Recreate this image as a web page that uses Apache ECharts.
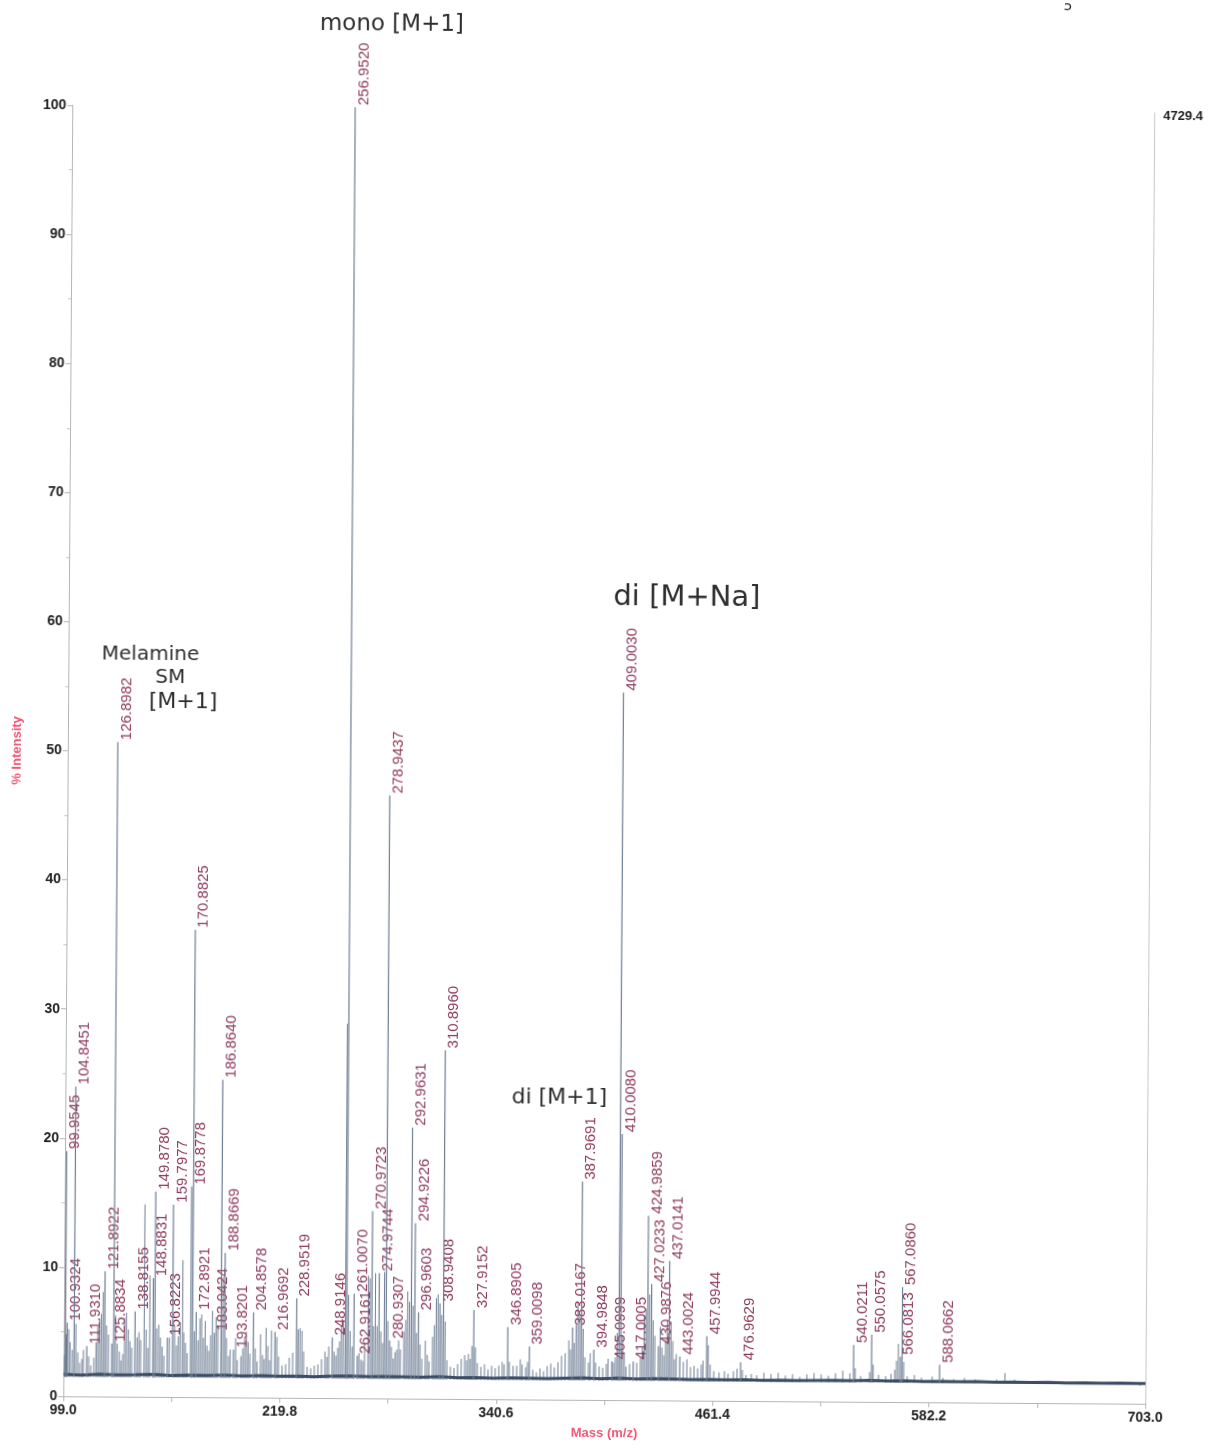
<!DOCTYPE html>
<html>
<head>
<meta charset="utf-8">
<title>Mass spectrum</title>
<script src="https://cdn.jsdelivr.net/npm/echarts@6/dist/echarts.min.js"></script>
<style>
  html, body { margin: 0; padding: 0; background: #ffffff; overflow: hidden; }
  #chart { width: 1212px; height: 1445px; transform: rotate(0.4deg); transform-origin: 50% 50%; }
</style>
</head>
<body>
<div id="chart"></div>
<script>
// Annotated peaks: m/z and % intensity
const labelMz = [99.9545, 100.9324, 104.8451, 111.9310, 121.8922, 125.8834, 126.8982, 138.8155, 148.8831, 149.8780,
  156.8223, 159.7977, 169.8778, 170.8825, 172.8921, 183.0424, 186.8640, 188.8669, 193.8201, 204.8578,
  216.9692, 228.9519, 248.9146, 256.9520, 261.0070, 262.9161, 270.9723, 274.9744, 278.9437, 280.9307,
  292.9631, 294.9226, 296.9603, 308.9408, 310.8960, 327.9152, 346.8905, 359.0098, 383.0167, 387.9691,
  394.9848, 405.0999, 409.0030, 410.0080, 417.0005, 424.9859, 427.0233, 430.9876, 437.0141, 443.0024,
  457.9944, 476.9629, 540.0211, 550.0575, 566.0813, 567.0860, 588.0662];
const labelInt = [19.0, 5.7, 24.0, 3.9, 9.7, 4.1, 50.7, 6.6, 9.2, 15.9,
  4.6, 14.9, 16.3, 36.2, 6.6, 5.0, 24.6, 11.2, 3.7, 6.6,
  5.1, 7.7, 4.7, 100, 8.1, 3.3, 14.5, 9.7, 46.7, 4.5,
  21.0, 13.6, 6.7, 7.4, 27.0, 6.9, 5.6, 4.1, 5.6, 16.9,
  3.9, 3.0, 54.8, 20.6, 3.0, 14.3, 9.0, 4.2, 10.8, 3.4,
  5.0, 3.0, 4.4, 5.2, 3.5, 8.9, 2.9];

// Unannotated peaks and chemical noise
const minorMz = [99.5, 100.4, 101.8, 102.6, 103.8, 105.8, 106.9, 108.0, 109.2, 110.1, 113.0, 114.2, 115.9, 117.1, 118.0,
  119.0, 120.0, 120.9, 122.9, 124.0, 127.9, 128.9, 130.1, 131.0, 132.0, 133.0, 134.0, 135.1, 136.0, 137.0,
  140.0, 141.0, 142.0, 143.9, 145.0, 146.0, 147.0, 150.9, 152.0, 153.0, 154.0, 155.0, 158.0, 160.9, 162.0,
  163.0, 164.0, 165.3, 166.0, 167.0, 168.0, 171.9, 174.0, 175.0, 176.0, 177.0, 178.0, 179.0, 180.0, 181.0,
  182.0, 184.0, 185.0, 187.8, 189.9, 191.0, 192.0, 195.0, 196.0, 198.0, 199.0, 200.0, 201.0, 202.0, 203.0,
  206.0, 207.0, 208.9, 210.0, 211.0, 212.0, 213.0, 214.0, 215.0, 218.0, 219.0, 221.0, 223.0, 225.0, 226.9,
  229.9, 230.9, 232.0, 233.0, 235.0, 237.0, 239.0, 241.0, 243.0, 244.9, 246.0, 247.0, 250.0, 251.0, 252.0,
  253.0, 254.0, 255.0, 256.2, 257.9, 258.9, 260.0, 263.9, 265.0, 266.0, 267.0, 268.9, 269.9, 271.9, 272.9,
  273.9, 276.0, 277.0, 277.9, 279.9, 282.0, 283.0, 284.0, 285.0, 286.0, 287.0, 288.9, 289.9, 290.9, 291.9,
  293.9, 295.9, 297.9, 299.0, 300.9, 302.0, 303.0, 304.9, 305.9, 306.9, 307.9, 309.9, 311.9, 313.0, 315.0,
  317.0, 319.0, 321.0, 322.9, 324.0, 325.0, 326.0, 326.9, 328.9, 330.0, 332.0, 334.0, 336.0, 338.0, 340.0,
  342.0, 343.9, 345.0, 347.9, 350.0, 352.0, 354.0, 355.0, 357.0, 358.0, 361.0, 363.0, 365.0, 367.0, 369.0,
  371.0, 373.0, 375.0, 377.0, 379.0, 381.0, 382.0, 384.0, 385.0, 386.0, 387.0, 389.0, 390.0, 392.0, 393.0,
  396.0, 398.0, 400.0, 402.0, 403.0, 406.0, 407.0, 408.0, 411.0, 412.0, 413.0, 415.0, 419.0, 421.0, 422.0,
  423.0, 424.0, 426.0, 428.0, 429.0, 432.0, 433.0, 434.0, 435.0, 436.0, 438.0, 439.0, 440.0, 441.0, 445.0,
  447.0, 449.0, 451.0, 453.0, 455.0, 456.0, 458.9, 460.0, 462.0, 465.0, 468.0, 470.0, 473.0, 475.0, 478.0,
  480.0, 483.0, 486.0, 490.0, 494.0, 498.0, 502.0, 506.0, 510.0, 514.0, 518.0, 522.0, 526.0, 530.0, 534.0,
  538.0, 541.0, 544.0, 549.0, 551.0, 554.0, 558.0, 561.0, 563.0, 564.0, 565.0, 568.0, 570.0, 574.0, 578.0,
  584.0, 590.0, 596.0, 602.0, 608.0, 614.0, 620.0, 624.6, 630.0, 636.0, 642.0, 648.0, 654.0, 660.0, 666.0,
  672.0, 678.0, 684.0, 690.0, 696.0, 700.0];
const minorInt = [3.2, 4.8, 5.2, 4.2, 3.6, 5.6, 3.4, 2.6, 2.9, 3.6, 3.1, 2.4, 3.0, 4.2, 5.4,
  6.0, 6.4, 8.1, 5.5, 4.8, 6.3, 4.1, 3.5, 2.8, 3.3, 6.1, 6.5, 5.2, 4.3, 3.8,
  4.6, 5.0, 4.4, 14.9, 5.2, 3.8, 9.4, 5.3, 5.6, 4.6, 3.9, 3.2, 4.6, 5.5, 4.0,
  4.7, 5.8, 10.6, 5.0, 4.2, 3.4, 5.1, 4.4, 6.1, 6.4, 4.6, 5.9, 4.0, 3.6, 4.8,
  6.7, 6.2, 5.6, 9.3, 4.6, 3.2, 3.7, 4.6, 2.9, 3.2, 3.8, 4.6, 5.1, 4.3, 3.4,
  3.8, 2.8, 4.9, 3.3, 3.0, 5.4, 4.0, 2.9, 5.2, 4.7, 3.2, 2.5, 2.6, 3.1, 3.5,
  5.3, 5.4, 5.2, 3.6, 2.4, 2.3, 2.5, 2.6, 3.0, 3.6, 3.2, 4.0, 3.6, 3.3, 3.9,
  4.4, 5.6, 6.0, 29.0, 8.0, 5.2, 4.0, 3.5, 3.0, 2.9, 4.2, 9.5, 9.3, 5.6, 9.7,
  5.6, 5.2, 4.3, 9.8, 6.0, 4.0, 3.1, 3.6, 3.8, 4.5, 3.8, 5.2, 6.1, 8.3, 7.5,
  7.2, 5.1, 4.2, 3.1, 4.5, 3.4, 2.9, 4.8, 5.7, 7.8, 8.1, 6.5, 6.0, 3.0, 2.5,
  2.4, 2.7, 3.1, 3.4, 3.0, 3.5, 3.1, 4.1, 4.0, 2.8, 2.5, 2.7, 2.3, 2.6, 2.4,
  2.6, 2.9, 2.7, 2.9, 2.6, 2.6, 3.1, 2.7, 2.5, 2.9, 2.3, 2.1, 2.4, 2.2, 2.6,
  2.8, 2.5, 2.9, 3.4, 3.6, 4.6, 3.9, 4.4, 5.8, 7.6, 6.6, 5.5, 3.3, 2.9, 3.6,
  2.9, 2.6, 2.5, 2.8, 3.2, 2.9, 3.3, 5.2, 5.0, 3.7, 2.6, 2.8, 2.9, 3.3, 4.1,
  6.6, 7.1, 8.2, 6.2, 5.0, 5.7, 4.1, 3.5, 4.7, 6.2, 6.1, 4.6, 3.2, 3.6, 3.0,
  3.2, 2.6, 2.7, 2.5, 2.8, 3.1, 4.3, 2.8, 2.3, 2.2, 2.3, 2.1, 2.3, 2.5, 2.4,
  2.0, 2.1, 2.0, 2.2, 2.1, 2.2, 2.0, 2.1, 1.9, 2.1, 2.2, 2.1, 2.0, 2.2, 2.4,
  2.2, 2.6, 2.0, 2.3, 2.9, 2.1, 2.0, 2.2, 2.5, 3.2, 4.5, 3.1, 2.0, 2.1, 1.9,
  2.0, 1.9, 1.8, 1.9, 1.8, 1.7, 1.8, 2.3, 1.8, 1.7, 1.7, 1.6, 1.7, 1.6, 1.6,
  1.5, 1.6, 1.5, 1.5, 1.5, 1.4];

// Baseline trace
const baseMz = [99, 109, 119, 129, 139, 149, 159, 169, 179, 189, 199, 209, 219, 229, 239, 249, 259, 269, 279, 289,
  299, 309, 319, 329, 339, 349, 359, 369, 379, 389, 399, 409, 419, 429, 439, 449, 459, 469, 479, 489,
  499, 509, 519, 529, 539, 549, 559, 569, 579, 589, 599, 609, 619, 629, 639, 649, 659, 669, 679, 689, 699, 703];
const baseInt = [1.70, 1.65, 1.72, 1.68, 1.70, 1.74, 1.66, 1.71, 1.69, 1.73, 1.67, 1.70, 1.66, 1.69, 1.64, 1.70, 1.72, 1.68, 1.71, 1.69,
  1.66, 1.72, 1.65, 1.67, 1.63, 1.66, 1.64, 1.62, 1.66, 1.70, 1.64, 1.71, 1.65, 1.68, 1.66, 1.63, 1.65, 1.62, 1.64, 1.61,
  1.63, 1.60, 1.62, 1.64, 1.63, 1.66, 1.62, 1.65, 1.61, 1.63, 1.60, 1.62, 1.59, 1.61, 1.58, 1.60, 1.57, 1.59, 1.56, 1.58, 1.57, 1.56];

// Axis tick values
const xMajor = [99.0, 219.8, 340.6, 461.4, 582.2, 703.0];
const xMinor = [159.4, 280.2, 401.0, 521.8, 642.6];

const peakFloor = 1.5;
const stickColor = '#6d7d94';
const labelColor = '#8c3a5a';

const chart = echarts.init(document.getElementById('chart'), null, { renderer: 'canvas' });

function stickItem(withLabel) {
  return function (params, api) {
    const mz = api.value(0);
    const h = api.value(1);
    const top = api.coord([mz, h]);
    const bot = api.coord([mz, peakFloor]);
    const children = [{
      type: 'line',
      shape: { x1: top[0], y1: top[1], x2: bot[0], y2: bot[1] },
      style: { stroke: stickColor, lineWidth: withLabel ? 1.2 : 1 }
    }];
    if (withLabel) {
      children.push({
        type: 'text',
        x: top[0] + 1,
        y: top[1] - 2,
        rotation: Math.PI / 2,
        style: {
          text: mz.toFixed(4),
          fill: labelColor,
          font: '15px "Liberation Sans", Arial, sans-serif',
          align: 'left',
          verticalAlign: 'top'
        }
      });
    }
    return { type: 'group', children: children };
  };
}

const handFont = '"DejaVu Sans", sans-serif';
const handColor = '#2e2e2e';

chart.setOption({
  backgroundColor: '#ffffff',
  animation: false,
  grid: { left: 68, right: 62, top: 109, bottom: 43, containLabel: false },
  xAxis: {
    type: 'value',
    min: 99,
    max: 703,
    name: 'Mass (m/z)',
    nameLocation: 'middle',
    nameGap: 27,
    nameTextStyle: { color: '#ef5675', fontWeight: 'bold', fontSize: 13, fontFamily: 'Liberation Sans' },
    axisLine: { show: true, lineStyle: { color: '#b5b5b5', width: 1 } },
    axisTick: { show: true, length: 5, customValues: xMajor.concat(xMinor), lineStyle: { color: '#b5b5b5' } },
    axisLabel: {
      customValues: xMajor,
      formatter: function (v) { return Number(v).toFixed(1); },
      color: '#222222', fontWeight: 'bold', fontSize: 14, fontFamily: 'Liberation Sans', margin: 7
    },
    splitLine: { show: false }
  },
  yAxis: [{
    type: 'value',
    min: 0,
    max: 100,
    interval: 10,
    name: '% Intensity',
    nameLocation: 'middle',
    nameGap: 44,
    nameRotate: 90,
    nameTextStyle: { color: '#ef5675', fontWeight: 'bold', fontSize: 13, fontFamily: 'Liberation Sans' },
    axisLine: { show: true, lineStyle: { color: '#b5b5b5', width: 1 } },
    axisTick: { show: true, length: 5, lineStyle: { color: '#b5b5b5' } },
    minorTick: { show: true, splitNumber: 2, length: 3, lineStyle: { color: '#c5c5c5' } },
    axisLabel: { color: '#222222', fontWeight: 'bold', fontSize: 14, fontFamily: 'Liberation Sans', margin: 6 },
    splitLine: { show: false }
  }, {
    type: 'value',
    position: 'right',
    min: 0,
    max: 100,
    axisLine: { show: true, lineStyle: { color: '#c8c8c8', width: 1 } },
    axisTick: { show: false },
    axisLabel: { show: false },
    splitLine: { show: false }
  }],
  series: [
    {
      type: 'custom',
      name: 'noise',
      renderItem: stickItem(false),
      data: minorMz.map(function (m, i) { return [m, minorInt[i]]; }),
      z: 2
    },
    {
      type: 'line',
      name: 'baseline',
      data: baseMz.map(function (m, i) { return [m, baseInt[i]]; }),
      symbol: 'none',
      lineStyle: { color: '#3b4c63', width: 3 },
      z: 3
    },
    {
      type: 'custom',
      name: 'peaks',
      renderItem: stickItem(true),
      data: labelMz.map(function (m, i) { return [m, labelInt[i]]; }),
      z: 4
    }
  ],
  graphic: [
    { type: 'text', x: 1159, y: 106, style: { text: '4729.4', fill: '#222222', font: 'bold 13px "Liberation Sans", Arial, sans-serif' } },
    { type: 'text', x: 387, y: 26, style: { text: 'mono [M+1]', fill: handColor, font: '23px ' + handFont, align: 'center', verticalAlign: 'middle' } },
    { type: 'text', x: 150, y: 658, style: { text: 'Melamine', fill: handColor, font: '20px ' + handFont, align: 'center', verticalAlign: 'middle' } },
    { type: 'text', x: 170, y: 681, style: { text: 'SM', fill: handColor, font: '20px ' + handFont, align: 'center', verticalAlign: 'middle' } },
    { type: 'text', x: 183, y: 705, style: { text: '[M+1]', fill: handColor, font: '22px ' + handFont, align: 'center', verticalAlign: 'middle' } },
    { type: 'text', x: 686, y: 597, style: { text: 'di [M+Na]', fill: handColor, font: '29px ' + handFont, align: 'center', verticalAlign: 'middle' } },
    { type: 'text', x: 562, y: 1098, style: { text: 'di [M+1]', fill: handColor, font: '22px ' + handFont, align: 'center', verticalAlign: 'middle' } },
    { type: 'text', x: 1063, y: 3, style: { text: '5', fill: handColor, font: '14px ' + handFont, align: 'center', verticalAlign: 'middle' } }
  ]
});
</script>
</body>
</html>
